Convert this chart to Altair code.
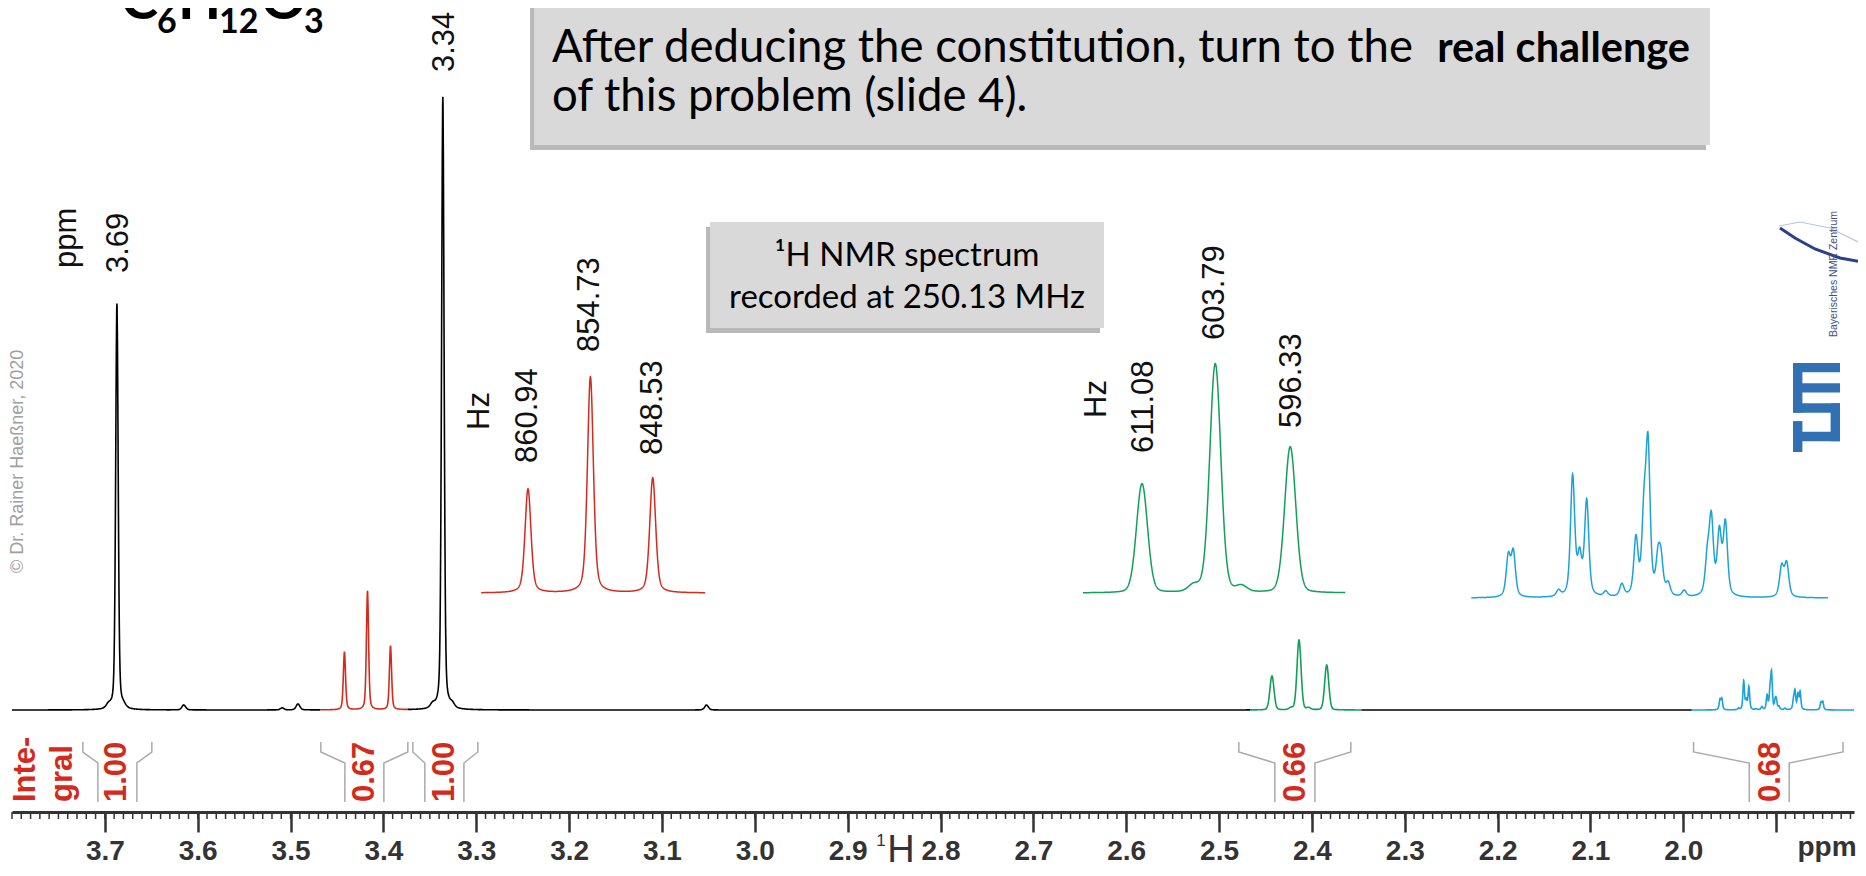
import numpy as np
import pandas as pd
import altair as alt

alt.data_transformers.disable_max_rows()

MHZ = 250.13

# ---------------- spectrum data ----------------
# isolated peaks of the main trace: position (ppm), height, FWHM (Hz)
single_ppm = [3.687, 3.336, 3.696, 3.680, 3.615, 3.509, 3.492, 3.347, 3.326, 3.052]
single_h = [406, 613, 4, 3, 5, 2, 6, 4, 4, 5]
single_w = [0.8, 0.8, 1.5, 1.5, 1.2, 1.2, 1.2, 1.5, 1.5, 1.2]

# red triplet (Hz)
red_hz = [860.94, 854.73, 848.53]
red_inset_h = [104, 216, 115]
red_main_h = [58, 119, 64]

# green triplet (Hz)
green_hz = [611.08, 605.9, 603.79, 601.2, 596.33]
green_inset_h = [109, 7, 229, 6, 146]
green_main_h = [34, 2, 70, 2, 45]

# blue multiplet (Hz)
blue_hz = [490.4, 489.9, 485.4, 484.0, 483.3, 482.6, 480.7, 479.1, 477.7, 476.9, 476.5,
           475.5, 475.2, 474.5, 472.9, 470.6, 470.2, 469.4, 468.8, 463.2, 462.7]
blue_inset_h = [40, 44, 6, 120, 38, 95, 5, 12, 56, 75, 145,
                34, 32, 12, 6, 35, 75, 62, 72, 30, 33]
blue_main_h = [10, 11, 1.5, 29, 9, 23, 1, 3, 14, 18, 35,
               8, 8, 3, 1.5, 8.5, 18, 15, 17.5, 7.3, 8]

# coloured segments of the main trace (ppm from, ppm to)
seg_names = ["k1", "red", "k2", "green", "k3", "blue"]
seg_from = [3.80, 3.468, 3.374, 2.467, 2.347, 1.991]
seg_to = [3.468, 3.374, 2.467, 2.347, 1.991, 1.8162]
seg_colors = ["#000000", "#d52b1e", "#000000", "#11a05a", "#000000", "#1ba3d8"]

# peak labels on main trace
main_lab_text = ["ppm", "3.69", "3.34"]
main_lab_ppm = [3.741, 3.685, 3.334]
main_lab_y = [442, 437, 638]

# inset labels
red_lab_text = ["Hz", "860.94", "854.73", "848.53"]
red_lab_hz = [865.72, 860.94, 854.73, 848.53]
red_lab_y = [163, 130, 241, 138]
green_lab_text = ["Hz", "611.08", "603.79", "596.33"]
green_lab_hz = [615.56, 610.9, 603.85, 596.2]
green_lab_y = [175, 140, 253, 165]

# integrals
int_text = ["1.00", "0.67", "1.00", "0.66", "0.68"]
int_label_ppm = [3.687, 3.420, 3.334, 2.417, 1.906]
int_outer_l = [3.7237, 3.4674, 3.3683, 2.4787, 1.989]
int_inner_l = [3.7075, 3.4415, 3.3554, 2.4399, 1.929]
int_inner_r = [3.6655, 3.3995, 3.3133, 2.3968, 1.886]
int_outer_r = [3.6494, 3.3737, 3.2983, 2.3581, 1.828]

# axis ticks
major_ticks = [3.7, 3.6, 3.5, 3.4, 3.3, 3.2, 3.1, 3.0, 2.9, 2.8, 2.7, 2.6, 2.5, 2.4, 2.3, 2.2, 2.1, 2.0, 1.9]
minor_ticks = [round(v, 2) for v in np.arange(1.82, 3.805, 0.01)]

# ---------------- layout constants ----------------
W, H = 1842, 804
PAGE_X0, PAGE_Y0 = 12, 8
X_DOMAIN = [3.80, 1.8162]
Y_DOMAIN = [-102, 702]
K_INSET = 10.05  # px per Hz in the expansions


def pv(x, c, h, w, eta):
    d = (x - c) / (w / 2.0)
    return h * (eta / (1 + d * d) + (1 - eta) * np.exp(-np.log(2) * d * d))


# ---------------- main trace ----------------
all_centers_hz = ([p * MHZ for p in single_ppm] + red_hz + green_hz + blue_hz)
grid_hz = np.union1d(np.arange(X_DOMAIN[1] * MHZ, X_DOMAIN[0] * MHZ, 0.1), all_centers_hz)
I = np.zeros_like(grid_hz)
for c, h, w in zip(single_ppm, single_h, single_w):
    I += pv(grid_hz, c * MHZ, h, w, 0.35)
for c, h in zip(red_hz, red_main_h):
    I += pv(grid_hz, c, h, 0.7, 0.4)
for c, h in zip(green_hz, green_main_h):
    I += pv(grid_hz, c, h, 1.3, 0.15)
for c, h in zip(blue_hz, blue_main_h):
    I += pv(grid_hz, c, h, 0.5, 0.5)
ppm = grid_hz / MHZ

frames = []
for i, (name, a, b) in enumerate(zip(seg_names, seg_from, seg_to)):
    m = (ppm <= a + 1e-9) & (ppm >= b - 0.0004)
    frames.append(pd.DataFrame({"ppm": ppm[m], "I": I[m], "seg": name, "sid": i}))
df_main = pd.concat(frames, ignore_index=True)


def xm():
    return alt.Scale(domain=X_DOMAIN, nice=False, zero=False)


def ym():
    return alt.Scale(domain=Y_DOMAIN, nice=False, zero=False)


x_axis = alt.Axis(
    values=major_ticks, tickSize=20, tickWidth=2.5,
    labelExpr="datum.value > 1.95 ? format(datum.value, '.1f') : ''",
    labelOverlap=False, labelFlush=False, labelFont="Liberation Sans", labelFontSize=28,
    labelFontWeight="bold", labelColor="#333333", labelPadding=5,
    domainColor="#333333", domainWidth=3, tickColor="#333333", grid=False, title=None,
)

layers = []

spec_line = alt.Chart(df_main).mark_line(strokeWidth=1.6, interpolate="linear").encode(
    x=alt.X("ppm:Q", scale=xm(), axis=x_axis),
    y=alt.Y("I:Q", scale=ym(), axis=None),
    color=alt.Color("seg:N", scale=alt.Scale(domain=seg_names, range=seg_colors), legend=None),
    detail="sid:N",
    order="ppm:Q",
)
layers.append(spec_line)

# minor ticks
df_minor = pd.DataFrame({"ppm": minor_ticks, "y1": Y_DOMAIN[0], "y2": Y_DOMAIN[0] - 7})
layers.append(alt.Chart(df_minor).mark_rule(color="#333333", strokeWidth=1.5).encode(
    x=alt.X("ppm:Q", scale=xm(), axis=None),
    y=alt.Y("y1:Q", scale=ym(), axis=None), y2="y2:Q"))

# integral brackets
LV = [-32, -42, -53, -92]
br_rows = []
for k, (ol, il, ir, orr) in enumerate(zip(int_outer_l, int_inner_l, int_inner_r, int_outer_r)):
    for j, (xx, yy) in enumerate([(ol, LV[0]), (ol, LV[1]), (il, LV[2]), (il, LV[3])]):
        br_rows.append({"ppm": xx, "I": yy, "bid": f"{k}L", "o": j})
    for j, (xx, yy) in enumerate([(orr, LV[0]), (orr, LV[1]), (ir, LV[2]), (ir, LV[3])]):
        br_rows.append({"ppm": xx, "I": yy, "bid": f"{k}R", "o": j})
df_br = pd.DataFrame(br_rows)
layers.append(alt.Chart(df_br).mark_line(color="#aaaaaa", strokeWidth=1.5).encode(
    x=alt.X("ppm:Q", scale=xm(), axis=None),
    y=alt.Y("I:Q", scale=ym(), axis=None),
    detail="bid:N", order="o:Q"))

df_int = pd.DataFrame({"ppm": int_label_ppm, "I": LV[3], "t": int_text})
layers.append(alt.Chart(df_int).mark_text(
    angle=270, align="left", baseline="middle", font="Liberation Sans",
    fontWeight="bold", fontSize=31, color="#d42a1c",
).encode(
    x=alt.X("ppm:Q", scale=xm(), axis=None),
    y=alt.Y("I:Q", scale=ym(), axis=None),
    text="t:N"))

df_ml = pd.DataFrame({"ppm": main_lab_ppm, "I": main_lab_y, "t": main_lab_text})
layers.append(alt.Chart(df_ml).mark_text(
    angle=270, align="left", baseline="middle", font="Liberation Sans", fontSize=31, color="#111111",
).encode(
    x=alt.X("ppm:Q", scale=xm(), axis=None),
    y=alt.Y("I:Q", scale=ym(), axis=None),
    text="t:N"))


# ---------------- expansions ----------------
def inset(hz, hts, fwhm, eta, color, hz_start, hz_end, hz0, px0, base_y, lab_t=None, lab_hz=None, lab_y=None):
    g = np.union1d(np.arange(hz_end, hz_start, 0.02), hz)
    yy = np.zeros_like(g)
    for c, h in zip(hz, hts):
        yy += pv(g, c, h, fwhm, eta)
    df = pd.DataFrame({"hz": g, "y": yy})
    dom_x = [hz0 + (px0 - PAGE_X0) / K_INSET, hz0 - (PAGE_X0 + W - px0) / K_INSET]
    off = (PAGE_Y0 + H) - base_y
    dom_y = [-off, H - off]
    out = [alt.Chart(df).mark_line(color=color, strokeWidth=1.5).encode(
        x=alt.X("hz:Q", scale=alt.Scale(domain=dom_x, nice=False, zero=False), axis=None),
        y=alt.Y("y:Q", scale=alt.Scale(domain=dom_y, nice=False, zero=False), axis=None),
        order="hz:Q")]
    if lab_t:
        dl = pd.DataFrame({"hz": lab_hz, "y": lab_y, "t": lab_t})
        out.append(alt.Chart(dl).mark_text(
            angle=270, align="left", baseline="middle", font="Liberation Sans", fontSize=31, color="#111111",
        ).encode(
            x=alt.X("hz:Q", scale=alt.Scale(domain=dom_x, nice=False, zero=False), axis=None),
            y=alt.Y("y:Q", scale=alt.Scale(domain=dom_y, nice=False, zero=False), axis=None),
            text="t:N"))
    return out


layers += inset(red_hz, red_inset_h, 0.7, 0.4, "#d52b1e", 865.6, 843.3, 860.94, 528, 593,
                red_lab_text, red_lab_hz, red_lab_y)
layers += inset(green_hz, green_inset_h, 1.3, 0.15, "#11a05a", 616.96, 590.85, 611.08, 1142, 593,
                green_lab_text, green_lab_hz, green_lab_y)
layers += inset(blue_hz, blue_inset_h, 0.5, 0.5, "#1ba3d8", 494.1, 458.6, 476.5, 1648, 598)


# ---------------- overlay in page pixels ----------------
def ox():
    return alt.Scale(domain=[PAGE_X0, PAGE_X0 + W], nice=False, zero=False)


def oy():
    return alt.Scale(domain=[PAGE_Y0 + H, PAGE_Y0], nice=False, zero=False)


box_x1 = [534, 710]
box_x2 = [1710, 1104]
box_y1 = [-20, 222]
box_y2 = [145, 328]

shadow = pd.DataFrame({"x1": [v - 4 for v in box_x1], "x2": [v - 4 for v in box_x2],
                       "y1": [v + 5 for v in box_y1], "y2": [v + 5 for v in box_y2]})
boxes = pd.DataFrame({"x1": box_x1, "x2": box_x2, "y1": box_y1, "y2": box_y2})


def rects(df, color, opacity=1.0):
    return alt.Chart(df).mark_rect(color=color, opacity=opacity).encode(
        x=alt.X("x1:Q", scale=ox(), axis=None), x2="x2:Q",
        y=alt.Y("y1:Q", scale=oy(), axis=None), y2="y2:Q")


# TUM logo, drawn as its letter strokes (u along the letters, v across), rotated 90 deg
tum_u0 = [0.0, 1.15, 1.15, 4.2, 4.2, 6.35, 8.5]
tum_u1 = [3.3, 2.15, 5.2, 5.2, 9.5, 7.35, 9.5]
tum_v0 = [0, 0, 4, 0, 0, 0, 0]
tum_v1 = [1, 5, 5, 5, 1, 5, 5]
TUM_X, TUM_Y, TUM_SU, TUM_SV = 1793, 452, 9.37, 9.4
tum = pd.DataFrame({
    "x1": [TUM_X + v * TUM_SV for v in tum_v0], "x2": [TUM_X + v * TUM_SV for v in tum_v1],
    "y1": [TUM_Y - u * TUM_SU for u in tum_u0], "y2": [TUM_Y - u * TUM_SU for u in tum_u1]})

swoosh = pd.DataFrame({"px": [1780, 1795, 1815, 1840, 1862], "py": [228, 238, 249, 258, 262]})
swoosh_lt = pd.DataFrame({"px": [1779, 1800, 1830, 1858, 1864], "py": [226, 222, 228, 242, 254]})


def pline(df, color, width):
    return alt.Chart(df).mark_line(color=color, strokeWidth=width).encode(
        x=alt.X("px:Q", scale=ox(), axis=None), y=alt.Y("py:Q", scale=oy(), axis=None), order="px:Q")


def ptext(t, x, y, size, font="Liberation Sans", weight="normal", align="left",
          baseline="alphabetic", angle=0, color="#000000"):
    d = pd.DataFrame({"px": [x], "py": [y], "t": [t]})
    return alt.Chart(d).mark_text(font=font, fontSize=size, fontWeight=weight, align=align,
                                  baseline=baseline, angle=angle, color=color).encode(
        x=alt.X("px:Q", scale=ox(), axis=None), y=alt.Y("py:Q", scale=oy(), axis=None), text="t:N")


layers += [
    rects(shadow, "#a8a8a8", 0.8),
    rects(boxes, "#d9d9d9"),
    rects(tum, "#3070b3"),
    pline(swoosh_lt, "#b9c4e3", 1.2),
    pline(swoosh, "#2b3f8f", 3),
    # formula
    ptext("C", 121, 19, 56, font="Lato", weight="bold"),
    ptext("6", 157, 33, 34, font="Lato", weight="bold"),
    ptext("H", 178, 19, 56, font="Lato", weight="bold"),
    ptext("12", 219, 33, 34, font="Lato", weight="bold"),
    ptext("O", 261, 19, 56, font="Lato", weight="bold"),
    ptext("3", 304, 33, 34, font="Lato", weight="bold"),
    # boxes
    ptext("After deducing the constitution, turn to the", 552, 62, 45.5, font="Lato"),
    ptext("real challenge", 1690, 62, 41.5, font="Lato", weight="bold", align="right"),
    ptext("of this problem (slide 4).", 552, 111, 45.5, font="Lato"),
    ptext("\u00b9H NMR spectrum", 907, 266, 33, font="Lato", align="center"),
    ptext("recorded at 250.13 MHz", 907, 308, 33, font="Lato", align="center"),
    # copyright
    ptext("\u00a9 Dr. Rainer Hae\u00dfner, 2020", 18, 573, 18, angle=270, baseline="middle", color="#a0a0a0"),
    # integral caption
    ptext("Inte-", 26, 802, 31, weight="bold", angle=270, baseline="middle", color="#d42a1c"),
    ptext("gral", 63, 802, 31, weight="bold", angle=270, baseline="middle", color="#d42a1c"),
    # axis captions
    ptext("1", 881, 846, 17, color="#333333", align="center"),
    ptext("H", 901, 862, 38, color="#333333", align="center"),
    ptext("ppm", 1827, 856, 28, weight="bold", color="#333333", align="center"),
    # logo text
    ptext("Bayerisches NMR Zentrum", 1834, 337, 10.5, angle=270, baseline="middle", color="#3d4f86"),
]

chart = alt.layer(*layers).resolve_scale(
    x="independent", y="independent", color="independent"
).properties(
    width=W, height=H,
    padding={"left": 4, "top": 0, "right": 4, "bottom": 54},
    autosize=alt.AutoSizeParams(type="none"),
    background="#ffffff",
).configure_view(stroke=None)

chart.save("out.html", embed_options={"renderer": "svg", "actions": False})
